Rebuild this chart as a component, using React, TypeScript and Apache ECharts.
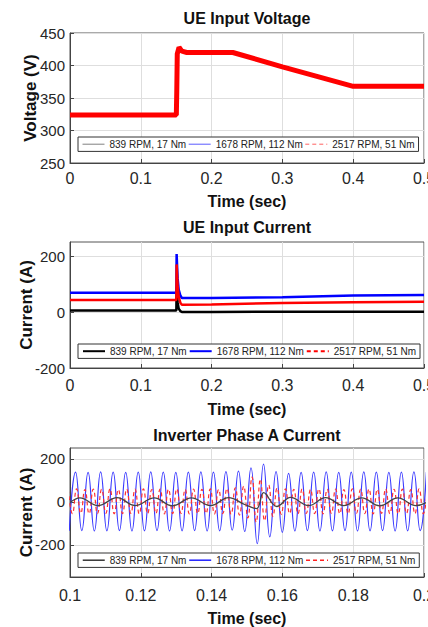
import React, { useEffect, useRef } from "react";
import * as echarts from "echarts";

const FONT = "'Liberation Sans', Arial, Helvetica, sans-serif";

const seriesNames = ["839 RPM, 17 Nm", "1678 RPM, 112 Nm", "2517 RPM, 51 Nm"];
const panelTitles = ["UE Input Voltage", "UE Input Current", "Inverter Phase A Current"];

// Panel 1: UE input voltage (all three runs overlap)
const voltTime = [0, 0.1502, 0.1508, 0.1515, 0.154, 0.158, 0.165, 0.2, 0.23, 0.3, 0.4, 0.45, 0.5];
const voltValue = [324, 324, 360, 418, 428, 422, 420, 420, 420, 398, 368, 368, 368];

// Panel 2: UE input current
const curTime = [0, 0.1502, 0.1506, 0.152, 0.1535, 0.156, 0.158, 0.2, 0.3, 0.4, 0.5];
const curBlack = [5, 5, 90, 35, 12, 3, 0, 0, 1, 1, 1];
const curBlue = [69, 69, 207, 120, 80, 58, 50, 50, 53, 59, 61];
const curRed = [43, 43, 170, 95, 55, 32, 26, 27, 32, 35, 37];

// Panel 3: inverter phase A current, extrema
const blackTime = [0.1, 0.1028, 0.1079, 0.1133, 0.1184, 0.1238, 0.1289, 0.1343, 0.1397, 0.1448, 0.1495, 0.1527, 0.1547, 0.1584, 0.1623, 0.1674, 0.1722, 0.1773, 0.1824, 0.1875, 0.1926, 0.1977, 0.2028];
const blackPhase = [-4, 18, -18, 19, -18, 18, -19, 18, -18, 19, -14, -32, 42, -22, 20, -18, 19, -18, 18, -19, 18, -18, 18];

const blueStart = 0.0998;
const blueHalfPeriod = 0.00177;
const bluePhase = [
  -135, 138, -134, 137, -136, 139, -135, 138, -134, 137,
  -136, 138, -135, 139, -134, 138, -136, 137, -135, 138,
  -134, 139, -136, 138, -135, 140, -132, 142, -138, 158,
  -195, 175, -163, 140, -142, 132, -136, 137, -134, 138,
  -136, 139, -135, 137, -134, 138, -136, 139, -135, 138,
  -134, 137, -136, 138, -135, 139, -134, 138,
];

const redStart = 0.0995;
const redHalfPeriod = 0.00118;
const redPhase = [
  58, -55, 60, -54, 57, -56, 59, -55, 58, -53,
  60, -56, 57, -55, 59, -54, 58, -56, 60, -55,
  57, -54, 59, -56, 58, -55, 60, -54, 57, -56,
  59, -55, 58, -54, 60, -56, 57, -55, 62, -58,
  65, -62, 72, -75, 115, -95, 105, -88, 78, -68,
  64, -58, 60, -55, 58, -56, 59, -54, 57, -55,
  60, -56, 58, -54, 59, -55, 57, -56, 60, -54,
  58, -55, 59, -56, 57, -54, 60, -55, 58, -56,
  59, -54, 57, -55, 60, -56, 58,
];

const pairs = (ts: number[], vs: number[]) => vs.map((v, i) => [ts[i], v]);
const stepPairs = (t0: number, dt: number, vs: number[]) => vs.map((v, i) => [t0 + i * dt, v]);

const GRIDS = [
  { left: 70, right: 4, top: 33, height: 130 },
  { left: 70, right: 4, top: 242, height: 126 },
  { left: 70, right: 4, top: 448, height: 129 },
];

function xAxis(gridIndex: number, min: number, max: number, interval: number, margin: number, nameGap: number) {
  return {
    type: "value",
    gridIndex,
    min,
    max,
    interval,
    name: "Time (sec)",
    nameLocation: "middle",
    nameGap,
    nameMoveOverlap: false,
    nameTextStyle: { fontFamily: FONT, fontSize: 16, fontWeight: "bold", color: "#111" },
    axisLine: { show: true, onZero: false, lineStyle: { color: "#444", width: 1 } },
    axisTick: { show: true, inside: true, length: 4, lineStyle: { color: "#444" } },
    axisLabel: { margin, fontFamily: FONT, fontSize: 16, color: "#262626", hideOverlap: false },
    splitLine: { show: true, lineStyle: { color: "#dedede", width: 1 } },
  };
}

function yAxis(gridIndex: number, name: string, min: number, max: number, ticks: number[], nameGap: number) {
  return {
    type: "value",
    gridIndex,
    min,
    max,
    name,
    nameLocation: "middle",
    nameGap,
    nameMoveOverlap: false,
    nameTextStyle: { fontFamily: FONT, fontSize: 17, fontWeight: "bold", color: "#111" },
    axisLine: { show: true, onZero: false, lineStyle: { color: "#444", width: 1 } },
    axisTick: { show: true, inside: true, length: 4, lineStyle: { color: "#444" }, customValues: ticks },
    axisLabel: { margin: 5, fontFamily: FONT, fontSize: 15, color: "#262626", customValues: ticks },
    splitLine: { show: true, lineStyle: { color: "#dedede", width: 1 } },
  };
}

function legend(top: number, styles: any[]) {
  return {
    left: 78,
    top,
    orient: "horizontal",
    padding: [2, 4],
    itemGap: 2,
    itemWidth: 22,
    itemHeight: 13,
    borderColor: "#333",
    borderWidth: 1,
    borderRadius: 0,
    backgroundColor: "#fff",
    selectedMode: false,
    textStyle: { fontFamily: FONT, fontSize: 10, color: "#222" },
    data: seriesNames.map((n, i) => ({
      name: n,
      itemStyle: { opacity: 0 },
      lineStyle: styles[i],
    })),
  };
}

function line(name: string, xi: number, data: any[], color: string, width: number, extra: any = {}) {
  return {
    type: "line",
    name,
    xAxisIndex: xi,
    yAxisIndex: xi,
    data,
    symbol: "none",
    showSymbol: false,
    lineStyle: { color, width, ...(extra.lineStyle || {}) },
    itemStyle: { color },
    smooth: extra.smooth ?? false,
    z: extra.z ?? 2,
  };
}

export default function App() {
  const ref = useRef<HTMLDivElement>(null);
  useEffect(() => {
    document.body.style.margin = "0";
    const chart = echarts.init(ref.current!, null, { renderer: "svg" });
    const option: any = {
      animation: false,
      backgroundColor: "#fff",
      title: panelTitles.map((t, i) => ({
        text: t,
        left: 247,
        top: [10, 219, 427][i],
        textAlign: "center",
        padding: 0,
        textStyle: { fontFamily: FONT, fontSize: 16, fontWeight: "bold", color: "#111" },
      })),
      grid: GRIDS.map((g) => ({
        ...g,
        show: true,
        borderColor: "#555",
        borderWidth: 1,
        backgroundColor: "#fff",
        containLabel: false,
        outerBoundsMode: "none",
      })),
      xAxis: [
        xAxis(0, 0, 0.5, 0.1, 7, 30),
        xAxis(1, 0, 0.5, 0.1, 9, 33),
        xAxis(2, 0.1, 0.2, 0.02, 10, 33),
      ],
      yAxis: [
        yAxis(0, "Voltage (V)", 250, 450, [250, 300, 350, 400, 450], 31),
        yAxis(1, "Current (A)", -200, 250, [-200, 0, 200], 35),
        yAxis(2, "Current (A)", -350, 250, [-200, 0, 200], 35),
      ],
      legend: [
        legend(137, [
          { color: "#808080", width: 1, type: "solid" },
          { color: "#5a5aff", width: 1, type: "solid" },
          { color: "#ff6060", width: 1, type: [4, 3] },
        ]),
        legend(344, [
          { color: "#000", width: 2, type: "solid" },
          { color: "#0000ff", width: 2, type: "solid" },
          { color: "#ff0000", width: 2, type: [4, 3] },
        ]),
        legend(553, [
          { color: "#333", width: 1.5, type: "solid" },
          { color: "#2020ff", width: 1.5, type: "solid" },
          { color: "#ff2020", width: 1.5, type: [4, 3] },
        ]),
      ],
      series: [
        line(seriesNames[0], 0, pairs(voltTime, voltValue), "#808080", 1),
        line(seriesNames[1], 0, pairs(voltTime, voltValue), "#3030ff", 2),
        line(seriesNames[2], 0, pairs(voltTime, voltValue), "#ff0000", 5),

        line(seriesNames[0], 1, pairs(curTime, curBlack), "#000000", 2.5),
        line(seriesNames[1], 1, pairs(curTime, curBlue), "#0000ff", 2.5),
        line(seriesNames[2], 1, pairs(curTime, curRed), "#ff0000", 2.5),

        line(seriesNames[1], 2, stepPairs(blueStart, blueHalfPeriod, bluePhase), "#3a3aff", 1.2, { smooth: 0.5 }),
        line(seriesNames[2], 2, stepPairs(redStart, redHalfPeriod, redPhase), "#ff3030", 1.2, { smooth: 0.5, lineStyle: { type: [4, 3] } }),
        line(seriesNames[0], 2, pairs(blackTime, blackPhase), "#444444", 1.3, { smooth: 0.4, z: 3 }),
      ],
    };
    chart.setOption(option);
    return () => chart.dispose();
  }, []);
  return (
    <div
      ref={ref}
      style={{ position: "absolute", left: 0, top: 0, width: 428, height: 627, background: "#fff" }}
    />
  );
}
